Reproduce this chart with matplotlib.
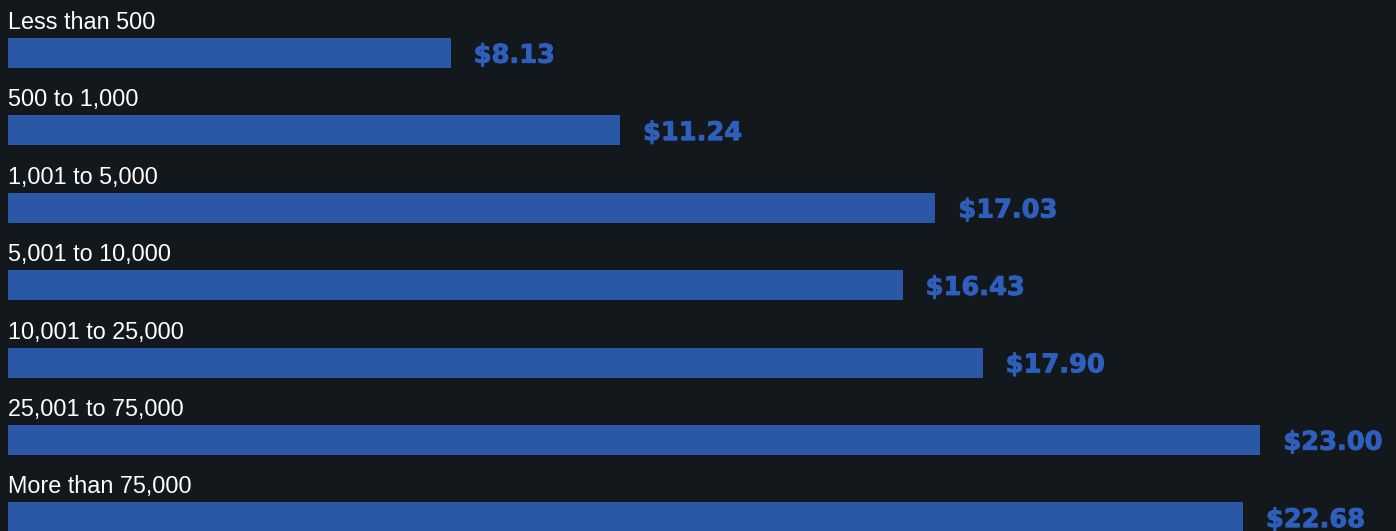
import matplotlib.pyplot as plt
import matplotlib.patheffects as pe

categories = ["Less than 500", "500 to 1,000", "1,001 to 5,000", "5,001 to 10,000",
              "10,001 to 25,000", "25,001 to 75,000", "More than 75,000"]
values = [8.13, 11.24, 17.03, 16.43, 17.90, 23.00, 22.68]

BG = "#12181c"
BAR = "#2b57a7"
VAL = "#2f5fbd"

W, H = 1396, 531
px_per_unit = 54.45      # horizontal scale
row_px = 77.4            # vertical spacing between rows
first_center = 53        # px from top to centre of first bar

fig = plt.figure(figsize=(W / 100, H / 100), dpi=100, facecolor=BG)
ax = fig.add_axes([8 / W, 0, (W - 8) / W, 1])
ax.set_facecolor(BG)

ys = list(range(len(values)))
ax.barh(ys, values, height=30 / row_px, color=BAR, left=0)

thick = [pe.withStroke(linewidth=0.7, foreground=VAL)]
for y, cat, v in zip(ys, categories, values):
    ax.text(0, y - 24 / row_px, cat, color="white", fontsize=16.8,
            family="Liberation Sans", va="baseline", ha="left")
    ax.text(v + 23 / px_per_unit, y + 0.035, f"${v:.2f}", color=VAL, fontsize=18.5,
            family="DejaVu Sans", fontweight="bold", va="center", ha="left",
            path_effects=thick)

ax.set_xlim(0, (W - 8) / px_per_unit)
ax.set_ylim((H - first_center) / row_px, -first_center / row_px)
ax.axis("off")

fig.savefig("out.png", dpi=100, facecolor=BG)
